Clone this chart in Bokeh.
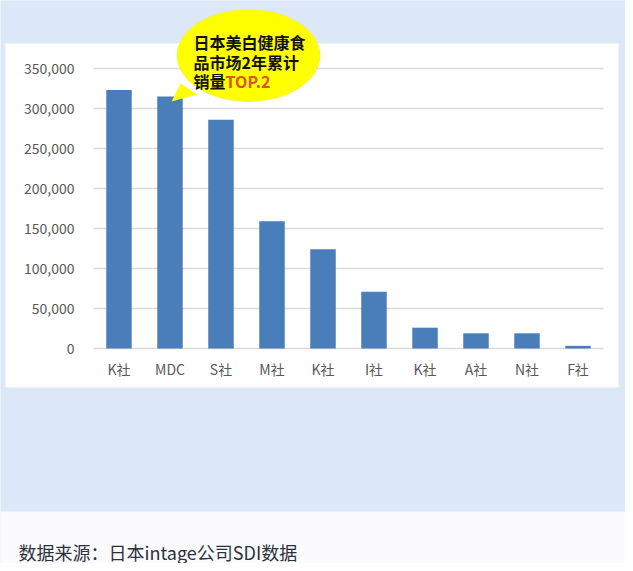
from bokeh.core.properties import value
from bokeh.embed import file_html
from bokeh.models import (BoxAnnotation, ColumnDataSource, FixedTicker,
                          NumeralTickFormatter, Range1d, Label)
from bokeh.plotting import figure
from bokeh.resources import INLINE

# data (sales, 2-year cumulative)
companies = ["K社", "MDC", "S社", "M社", "K社", "I社", "K社", "A社", "N社", "F社"]
sales = [323000, 315000, 286000, 159000, 124000, 71000, 26000, 19000, 19000, 3300]
y_ticks = [0, 50000, 100000, 150000, 200000, 250000, 300000, 350000]

bubble_lines = ["日本美白健康食", "品市场2年累计", "销量"]
bubble_tail = "TOP.2"
source_note = "数据来源：日本intage公司SDI数据"

BLUE_BG = "#dce8f8"
BAR = "#4a7ebb"
GREY = "#595959"
CJK = "Noto Sans CJK SC"

W, H = 625, 563
# plot area in canvas pixels: x 93..603, y 67 (350k) .. 348 (0)
px_per_cat = 51
val_per_px = 1250
left_px, right_px, zero_px = 93, 603, 348

idx = list(range(len(companies)))
src = ColumnDataSource(data=dict(x=idx, top=sales))

x0 = -0.5 - left_px / px_per_cat
x1 = len(companies) - 0.5 + (W - right_px) / px_per_cat
y1 = zero_px * val_per_px
y0 = -(H - zero_px) * val_per_px

p = figure(width=W, height=H, output_backend="svg", toolbar_location=None,
           x_range=Range1d(x0, x1), y_range=Range1d(y0, y1),
           min_border=0, min_border_left=0, min_border_right=0,
           min_border_top=0, min_border_bottom=0)
p.border_fill_color = BLUE_BG
p.background_fill_color = BLUE_BG
p.outline_line_color = None

# white chart panel and white footer strip (canvas pixels)
panel = BoxAnnotation(left=5, right=618, top=43, bottom=387,
                      left_units="canvas", right_units="canvas",
                      top_units="canvas", bottom_units="canvas",
                      fill_color="white", fill_alpha=1.0,
                      line_color="#eaf0fa", line_width=2, level="image")
footer = BoxAnnotation(left=-10, right=640, top=511, bottom=600,
                       left_units="canvas", right_units="canvas",
                       top_units="canvas", bottom_units="canvas",
                       fill_color="#fbfbfd", fill_alpha=1.0,
                       line_color=None, level="image")
p.add_layout(panel)
p.add_layout(footer)

# horizontal gridlines over the category span only
p.segment(x0=[-0.5] * len(y_ticks), x1=[len(companies) - 0.5] * len(y_ticks),
          y0=y_ticks, y1=y_ticks, line_color="#d9d9d9", line_width=1.3)

p.vbar(x="x", top="top", width=0.5, bottom=0, source=src,
       fill_color=BAR, line_color=None)

p.xgrid.visible = False
p.ygrid.visible = False

p.yaxis.ticker = FixedTicker(ticks=y_ticks)
p.yaxis.formatter = NumeralTickFormatter(format="0,0")
p.yaxis.fixed_location = -0.5
p.xaxis.ticker = FixedTicker(ticks=idx)
p.xaxis.major_label_overrides = {i: c for i, c in enumerate(companies)}
p.xaxis.fixed_location = 0
for ax in (p.xaxis, p.yaxis):
    ax.axis_line_color = None
    ax.major_tick_line_color = None
    ax.minor_tick_line_color = None
    ax.major_tick_out = 0
    ax.major_tick_in = 0
    ax.major_label_text_color = GREY
    ax.major_label_text_font = CJK
    ax.major_label_text_font_size = "14px"
p.yaxis.major_label_standoff = 19
p.xaxis.major_label_standoff = 10

# speech bubble pointing at the MDC bar
mdc = companies.index("MDC")
tip_x, tip_y = mdc + 0.03, sales[mdc] - 6250
p.patch([tip_x, tip_x + 0.18, tip_x + 0.5],
        [tip_y, tip_y + 22500, tip_y + 8750],
        fill_color="#ffff00", line_color=None)
p.ellipse(x=[mdc + 1.54], y=[sales[mdc] + 51250], width=143, height=92,
          width_units="screen", height_units="screen",
          fill_color="#ffff00", line_color="#f4f24a", line_width=1)
line_y = [sales[mdc] + 68125, sales[mdc] + 43750, sales[mdc] + 20000]
p.text(x=[mdc + 0.46] * 3, y=line_y, text=bubble_lines,
       text_font=value(CJK), text_font_style="bold", text_font_size="16px",
       text_color="#111111", text_baseline="middle", text_align="left")
p.text(x=[mdc + 1.09], y=[line_y[2]], text=[bubble_tail],
       text_font=value(CJK), text_font_style="bold", text_font_size="16px",
       text_color="#e0501a", text_baseline="middle", text_align="left")

note = Label(x=18, y=12, x_units="screen", y_units="screen", text=source_note,
             text_font=CJK, text_font_size="18px", text_color="#2b323d",
             text_baseline="middle")
p.add_layout(note)

open("out.html", "w").write(file_html(p, INLINE))
